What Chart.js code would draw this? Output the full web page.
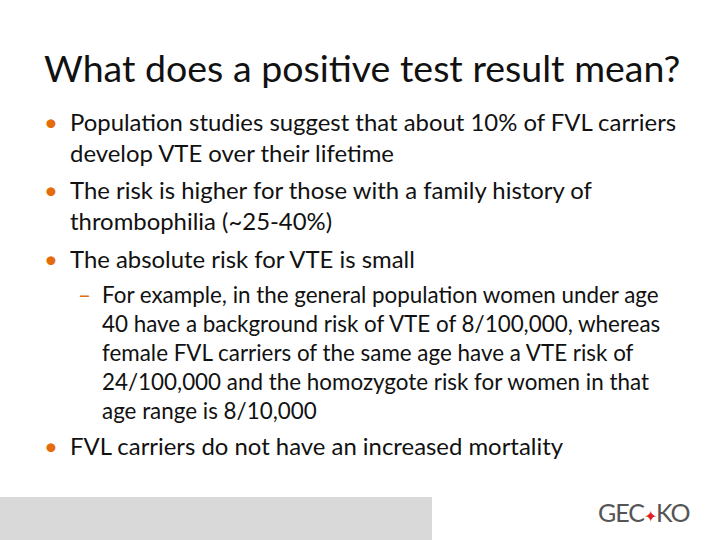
<!DOCTYPE html>
<html><head><meta charset="utf-8">
<script src="https://cdn.jsdelivr.net/npm/chart.js@4/dist/chart.umd.min.js"></script>
<style>
body{margin:0;width:720px;height:540px;background:#fff;position:relative;overflow:hidden;font-family:Lato,sans-serif;color:#111}
.t{position:absolute;white-space:nowrap;line-height:1}
.m{font-size:23.9px}
.s{font-size:22.4px}
.b{color:#e46c0a;position:absolute;left:-26px}
.d{color:#e46c0a;position:absolute;left:-24px}
</style></head><body>
<div class="t" style="left:44px;top:49px;font-size:37.5px;">What does a positive test result mean?</div>
<div class="t m" style="left:70px;top:110px"><span class="b">•</span>Population studies suggest that about 10% of FVL carriers</div>
<div class="t m" style="left:70px;top:141px">develop VTE over their lifetime</div>
<div class="t m" style="left:70px;top:178px"><span class="b">•</span>The risk is higher for those with a family history of</div>
<div class="t m" style="left:70px;top:209px">thrombophilia (~25-40%)</div>
<div class="t m" style="left:70px;top:247px"><span class="b">•</span>The absolute risk for VTE is small</div>
<div class="t s" style="left:102px;top:284px"><span class="d">–</span>For example, in the general population women under age</div>
<div class="t s" style="left:102px;top:313px">40 have a background risk of VTE of 8/100,000, whereas</div>
<div class="t s" style="left:102px;top:342px">female FVL carriers of the same age have a VTE risk of</div>
<div class="t s" style="left:102px;top:371px">24/100,000 and the homozygote risk for women in that</div>
<div class="t s" style="left:102px;top:400px">age range is 8/10,000</div>
<div class="t m" style="left:70px;top:434px"><span class="b">•</span>FVL carriers do not have an increased mortality</div>
<div style="position:absolute;left:0;top:497px;width:432px;height:43px;background:#d9d9d9"></div>
<div class="t" style="left:598px;top:500px;font-size:25px;color:#555;letter-spacing:-1px">GEC<span style="color:#d22;font-size:16px">✦</span>KO</div>
<canvas id="c" width="1" height="1" style="position:absolute;left:0;top:0;width:1px;height:1px"></canvas>
<script>
const categories=[];const values=[];
new Chart(document.getElementById('c'),{type:'bar',data:{labels:categories,datasets:[{data:values}]},options:{responsive:false,animation:false,plugins:{legend:{display:false}},scales:{x:{display:false},y:{display:false}}}});
</script>
</body></html>
